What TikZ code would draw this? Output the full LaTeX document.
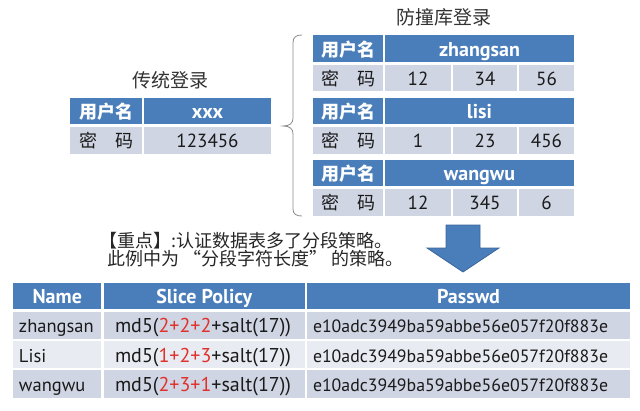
\documentclass[tikz,border=0pt]{standalone}
\usepackage{fontspec}
\setmainfont{PT Sans}
\newfontfamily\cjk{Noto Sans CJK SC}
\definecolor{hdrblue}{HTML}{4A7EBB}
\definecolor{rowdark}{HTML}{CFD5E3}
\definecolor{rowlight}{HTML}{E8EBF2}
\definecolor{txtc}{HTML}{1A1A1A}
\definecolor{polred}{HTML}{E0302A}
\definecolor{arrowline}{HTML}{3B6699}
\newcommand{\fsz}[1]{\fontsize{#1}{#1}\selectfont}
\newcommand{\mycell}[7]{\node[#2, minimum width={(#5-#3)*1pt}, minimum height={(#6-#4)*1pt}] (#1) at ({(#3+#5)/2},{(#4+#6)/2}) {#7};}
\tikzset{
  cellbase/.style={draw=white, line width=2.5pt, inner sep=0pt, outer sep=0pt, text height=15pt, text depth=0pt},
  hdr/.style={cellbase, fill=hdrblue, text=white, font=\bfseries\fsz{20}},
  hdrcjk/.style={cellbase, fill=hdrblue, text=white, font=\cjk\bfseries\fsz{18}},
  body/.style={cellbase, fill=rowdark, text=txtc, font=\fsz{19}},
  bodycjk/.style={cellbase, fill=rowdark, text=txtc, font=\cjk\fsz{18}},
  bodyl/.style={cellbase, fill=rowlight},
  celltxt/.style={inner sep=0pt, outer sep=0pt, text height=15pt, text depth=0pt, text=txtc, font=\fsz{18.5}, anchor=west},
  poltxt/.style={celltxt, font=\fsz{20}},
  pwtxt/.style={celltxt, font=\fsz{17.8}},
  titletxt/.style={inner sep=0pt, text=black!80, font=\cjk\fsz{19}},
  notetxt/.style={inner sep=0pt, text=black!85, font=\cjk\fsz{18}, anchor=west},
  bracec/.style={draw=black!45, line width=0.8pt},
  bigarrow/.style={fill=hdrblue, draw=arrowline, line width=0.8pt, line join=miter}
}
\begin{document}
\begin{tikzpicture}[x=1pt,y=-1pt]
\useasboundingbox (0,0) rectangle (640,410);
\fill[white] (0,0) rectangle (640,410);

% titles
\node[titletxt] (title1) at (170,80) {传统登录};
\node[titletxt] (title2) at (444,17) {防撞库登录};

% traditional login table
\mycell{lh1}{hdrcjk}{69}{97}{143}{125.5}{用户名}
\mycell{lh2}{hdr}{143}{97}{272}{125.5}{xxx}
\mycell{lr1}{bodycjk}{69}{125.5}{143}{155}{密\quad 码}
\mycell{lr2}{body}{143}{125.5}{272}{155}{123456}

% anti-collision tables
\mycell{ah1}{hdrcjk}{312}{34}{384}{63.5}{用户名}
\mycell{ah2}{hdr}{384}{34}{575}{63.5}{zhangsan}
\mycell{ar1}{bodycjk}{312}{63.5}{384}{92}{密\quad 码}
\mycell{ar2}{body}{384}{63.5}{452}{92}{12}
\mycell{ar3}{body}{452}{63.5}{518}{92}{34}
\mycell{ar4}{body}{518}{63.5}{575}{92}{56}

\mycell{bh1x}{hdrcjk}{312}{97}{384}{125.5}{用户名}
\mycell{bh2x}{hdr}{384}{97}{575}{125.5}{lisi}
\mycell{br1}{bodycjk}{312}{125.5}{384}{155}{密\quad 码}
\mycell{br2}{body}{384}{125.5}{452}{155}{1}
\mycell{br3}{body}{452}{125.5}{518}{155}{23}
\mycell{br4}{body}{518}{125.5}{575}{155}{456}

\mycell{ch1}{hdrcjk}{312}{159}{384}{187.5}{用户名}
\mycell{ch2}{hdr}{384}{159}{575}{187.5}{wangwu}
\mycell{cr1}{bodycjk}{312}{187.5}{384}{217}{密\quad 码}
\mycell{cr2}{body}{384}{187.5}{452}{217}{12}
\mycell{cr3}{body}{452}{187.5}{518}{217}{345}
\mycell{cr4}{body}{518}{187.5}{575}{217}{6}

% brace
\draw[bracec] (302,35) .. controls (296,35) and (293,37) .. (293,43) -- (293,118)
  .. controls (293,123) and (290,126) .. (283,126)
  .. controls (290,126) and (293,129) .. (293,134) -- (293,209)
  .. controls (293,214) and (296,216) .. (302,216);

% note
\node[notetxt] (note1) at (99,241) {【重点】:认证数据表多了分段策略。};
\node[notetxt] (note2) at (107,259) {此例中为 “分段字符长度” 的策略。};

% arrow
\draw[bigarrow] (446,225) -- (480,225) -- (480,248) -- (499,248) -- (463,272) -- (427,248) -- (446,248) -- cycle;

% bottom table
\mycell{th1}{hdr}{12}{282}{102.5}{310.5}{Name}
\mycell{th2}{hdr}{102.5}{282}{306}{310.5}{Slice Policy}
\mycell{th3}{hdr}{306}{282}{631}{310.5}{Passwd}

\mycell{r1a}{body}{12}{310.5}{102.5}{340}{}
\mycell{r1b}{body}{102.5}{310.5}{306}{340}{}
\mycell{r1c}{body}{306}{310.5}{631}{340}{}
\mycell{r2a}{bodyl}{12}{340}{102.5}{369}{}
\mycell{r2b}{bodyl}{102.5}{340}{306}{369}{}
\mycell{r2c}{bodyl}{306}{340}{631}{369}{}
\mycell{r3a}{body}{12}{369}{102.5}{399.5}{}
\mycell{r3b}{body}{102.5}{369}{306}{399.5}{}
\mycell{r3c}{body}{306}{369}{631}{399.5}{}

\node[celltxt] (r1at) at ([xshift=7pt]r1a.west) {zhangsan};
\node[poltxt] (r1bt) at ([xshift=12.5pt]r1b.west) {md5({\color{polred}2+2+2}+salt(17))};
\node[pwtxt] (r1ct) at ([xshift=7pt]r1c.west) {e10adc3949ba59abbe56e057f20f883e};
\node[celltxt] (r2at) at ([xshift=7pt]r2a.west) {Lisi};
\node[poltxt] (r2bt) at ([xshift=12.5pt]r2b.west) {md5({\color{polred}1+2+3}+salt(17))};
\node[pwtxt] (r2ct) at ([xshift=7pt]r2c.west) {e10adc3949ba59abbe56e057f20f883e};
\node[celltxt] (r3at) at ([xshift=7pt]r3a.west) {wangwu};
\node[poltxt] (r3bt) at ([xshift=12.5pt]r3b.west) {md5({\color{polred}2+3+1}+salt(17))};
\node[pwtxt] (r3ct) at ([xshift=7pt]r3c.west) {e10adc3949ba59abbe56e057f20f883e};
\end{tikzpicture}
\end{document}
